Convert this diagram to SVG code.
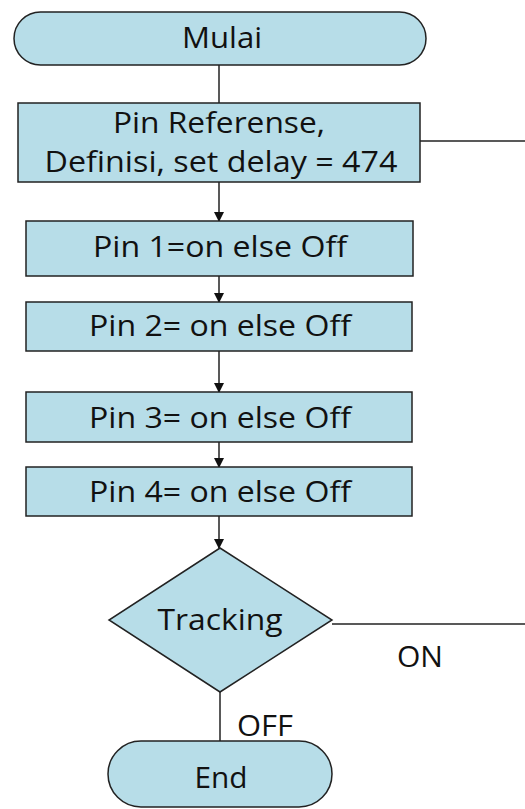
<svg xmlns="http://www.w3.org/2000/svg" width="525" height="809" viewBox="0 0 525 809">
<style>
.n{fill:#b7dde8;stroke:#222;stroke-width:1.5}
.t{font-family:"Open Sans","Liberation Sans",sans-serif;font-size:29px;font-weight:500;fill:#111;text-anchor:middle}
.c{stroke:#222;stroke-width:1.5;fill:none}
</style>
<defs>
<marker id="ah" markerWidth="10" markerHeight="10" refX="9" refY="5" orient="auto" markerUnits="userSpaceOnUse">
<path d="M0,0 L10,5 L0,10 Z" fill="#111"/>
</marker>
</defs>
<g id="connectors">
<line class="c" x1="219" y1="65" x2="219" y2="103"/>
<line class="c" x1="219" y1="182" x2="219" y2="221" marker-end="url(#ah)"/>
<line class="c" x1="219" y1="276" x2="219" y2="302" marker-end="url(#ah)"/>
<line class="c" x1="219" y1="351" x2="219" y2="392" marker-end="url(#ah)"/>
<line class="c" x1="219" y1="442" x2="219" y2="467" marker-end="url(#ah)"/>
<line class="c" x1="219" y1="516" x2="219" y2="548" marker-end="url(#ah)"/>
<line class="c" x1="220" y1="692" x2="220" y2="741"/>
<line class="c" x1="420" y1="141" x2="525" y2="141"/>
<line class="c" x1="332" y1="624" x2="525" y2="624"/>
<text class="t" x="420" y="667" textLength="46" lengthAdjust="spacingAndGlyphs">ON</text>
<text class="t" x="265" y="736" textLength="56" lengthAdjust="spacingAndGlyphs">OFF</text>
</g>
<g id="mulai">
<rect class="n" x="14" y="12" width="412" height="53" rx="26.5"/>
<text class="t" x="222" y="48" textLength="80" lengthAdjust="spacingAndGlyphs">Mulai</text>
</g>
<g id="definisi">
<rect class="n" x="18" y="103" width="402" height="79"/>
<text class="t" x="219" y="133" textLength="212" lengthAdjust="spacingAndGlyphs">Pin Referense,</text>
<text class="t" x="221" y="172" textLength="353" lengthAdjust="spacingAndGlyphs">Definisi, set delay = 474</text>
</g>
<g id="pin1">
<rect class="n" x="26" y="221" width="387" height="55"/>
<text class="t" x="220" y="257" textLength="254" lengthAdjust="spacingAndGlyphs">Pin 1=on else Off</text>
</g>
<g id="pin2">
<rect class="n" x="26" y="302" width="386" height="49"/>
<text class="t" x="220" y="336" textLength="262" lengthAdjust="spacingAndGlyphs">Pin 2= on else Off</text>
</g>
<g id="pin3">
<rect class="n" x="26" y="392" width="386" height="50"/>
<text class="t" x="220" y="428" textLength="262" lengthAdjust="spacingAndGlyphs">Pin 3= on else Off</text>
</g>
<g id="pin4">
<rect class="n" x="26" y="467" width="386" height="49"/>
<text class="t" x="220" y="502" textLength="262" lengthAdjust="spacingAndGlyphs">Pin 4= on else Off</text>
</g>
<g id="tracking">
<polygon class="n" points="220,548 332,620 220,692 109,620"/>
<text class="t" x="220" y="630" textLength="125" lengthAdjust="spacingAndGlyphs">Tracking</text>
</g>
<g id="end">
<rect class="n" x="108" y="741" width="224" height="66" rx="33"/>
<text class="t" x="221" y="788" textLength="53" lengthAdjust="spacingAndGlyphs">End</text>
</g>
</svg>
